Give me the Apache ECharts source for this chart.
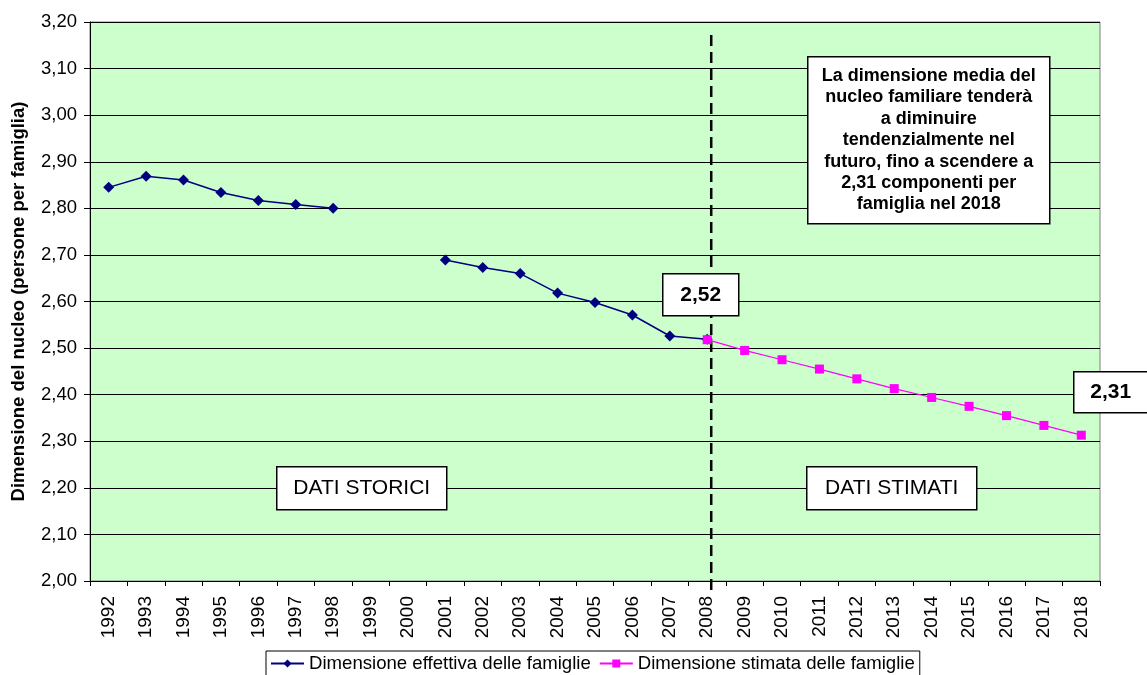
<!DOCTYPE html>
<html><head><meta charset="utf-8">
<script src="https://cdn.jsdelivr.net/npm/echarts@6/dist/echarts.min.js"></script>
<style>html,body{margin:0;padding:0;background:#fff}#c{width:1147px;height:675px}</style>
</head><body><div id="c"></div>
<script>
const years = ['1992','1993','1994','1995','1996','1997','1998','1999','2000','2001','2002','2003','2004','2005','2006','2007','2008','2009','2010','2011','2012','2013','2014','2015','2016','2017','2018'];
const effettiva = [2.845,2.869,2.861,2.834,2.817,2.808,2.800,null,null,2.689,2.673,2.660,2.618,2.598,2.571,2.526,2.519,null,null,null,null,null,null,null,null,null,null];
const stimata = [null,null,null,null,null,null,null,null,null,null,null,null,null,null,null,null,2.518,2.495,2.475,2.455,2.434,2.413,2.394,2.375,2.355,2.334,2.313];
const seriesNames = ['Dimensione effettiva delle famiglie','Dimensione stimata delle famiglie'];
const yTitle = 'Dimensione del nucleo (persone per famiglia)';
const noteText = 'La dimensione media del\nnucleo familiare tenderà\na diminuire\ntendenzialmente nel\nfuturo, fino a scendere a\n2,31 componenti per\nfamiglia nel 2018';
const dividerYear = '2008';
const FONT = "'Liberation Sans', Arial, sans-serif";
const fmt = v => v.toFixed(2).replace('.', ',');

function box(x, y, w, h, text, font, lh) {
  return {
    type: 'group', left: x, top: y, z: 100,
    children: [
      {type: 'rect', z: 100, shape: {x: 0, y: 0, width: w, height: h}, style: {fill: '#fff', stroke: '#000', lineWidth: 1.5}},
      {type: 'text', z: 101, x: w / 2, y: h / 2, style: {text: text, font: font, fill: '#000', align: 'center', verticalAlign: 'middle', lineHeight: lh}}
    ]
  };
}

const chart = echarts.init(document.getElementById('c'));
chart.setOption({
  animation: false,
  backgroundColor: '#fff',
  grid: {left: 90, top: 22, right: 47, bottom: 94, show: true, backgroundColor: '#CCFFCC', borderColor: '#808080', borderWidth: 1},
  legend: {
    data: seriesNames, left: 266, top: 651, orient: 'horizontal',
    borderColor: '#000', borderWidth: 1, padding: [3, 5, 6, 4], itemGap: 8,
    itemWidth: 33, itemHeight: 10,
    textStyle: {fontFamily: FONT, fontSize: 18.6, color: '#000'}
  },
  xAxis: {
    type: 'category', data: years, boundaryGap: true,
    axisLine: {lineStyle: {color: '#000', width: 1}},
    axisTick: {show: true, length: 5, lineStyle: {color: '#000'}},
    axisLabel: {rotate: 90, interval: 0, margin: 15, color: '#000', fontFamily: FONT, fontSize: 19},
    splitLine: {show: false}
  },
  yAxis: {
    type: 'value', min: 2.0, max: 3.2, interval: 0.1,
    name: yTitle, nameLocation: 'middle', nameGap: 62, nameRotate: 90,
    nameTextStyle: {fontFamily: FONT, fontSize: 18.5, fontWeight: 'bold', color: '#000'},
    axisLine: {show: true, lineStyle: {color: '#000', width: 1}},
    axisTick: {show: true, length: 6, lineStyle: {color: '#000'}},
    axisLabel: {color: '#000', fontFamily: FONT, fontSize: 18.5, margin: 13, formatter: v => fmt(Math.round(v * 100) / 100)},
    splitLine: {show: true, lineStyle: {color: '#000', width: 1}}
  },
  series: [
    {
      name: seriesNames[0], type: 'line', data: effettiva, connectNulls: false,
      symbol: 'diamond', symbolSize: 11, showSymbol: true,
      lineStyle: {color: '#000080', width: 1.5}, itemStyle: {color: '#000080'}, z: 3
    },
    {
      name: seriesNames[1], type: 'line', data: stimata, connectNulls: false,
      symbol: 'rect', symbolSize: 9, showSymbol: true,
      lineStyle: {color: '#FF00FF', width: 1.2}, itemStyle: {color: '#FF00FF'}, z: 4
    }
  ]
});

const xDiv = chart.convertToPixel({xAxisIndex: 0}, dividerYear) + 4;
const yTop = chart.convertToPixel({yAxisIndex: 0}, 3.172);
const yBot = chart.convertToPixel({yAxisIndex: 0}, 1.98);
chart.setOption({
  graphic: [
    {type: 'line', z: 1, shape: {x1: xDiv, y1: yTop, x2: xDiv, y2: yBot}, style: {stroke: '#000', lineWidth: 2.5, lineDash: [11, 6]}},
    box(662, 273, 76, 42, fmt(effettiva[16]), "bold 21px " + FONT, 24),
    box(1073, 371, 74, 41, fmt(stimata[26]), "bold 21px " + FONT, 24),
    box(807, 56, 242, 167, noteText, "bold 18px " + FONT, 21.4),
    box(276, 466, 170, 43, 'DATI STORICI', "21px " + FONT, 24),
    box(806, 466, 170, 43, 'DATI STIMATI', "21px " + FONT, 24)
  ]
});
</script></body></html>
